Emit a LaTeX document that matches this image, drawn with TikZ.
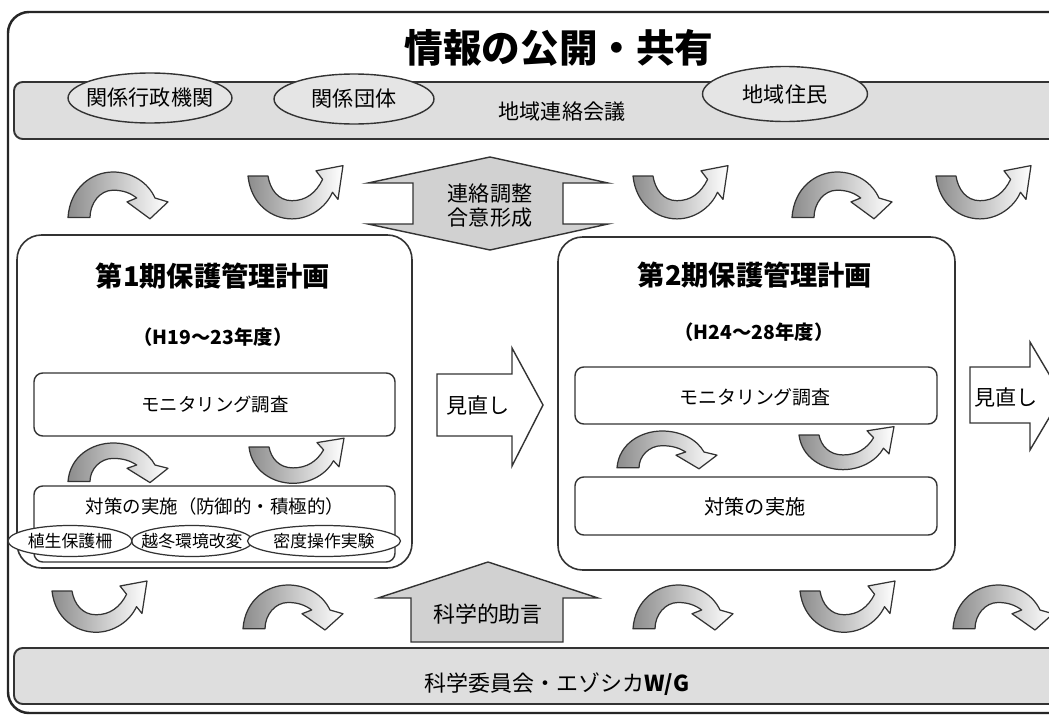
\documentclass[tikz,border=0pt]{standalone}
\usepackage{fontspec}
\setmainfont{Noto Sans CJK JP}
\usetikzlibrary{shapes.geometric}
\tikzset{
  frameline/.style={draw=black!85, line width=1.4pt, rounded corners=12pt},
  band/.style={draw=black!80, line width=1.1pt, fill=black!13, rounded corners=5pt},
  planbox/.style={draw=black!80, line width=0.9pt, fill=white, rounded corners=14pt},
  subbox/.style={draw=black!80, line width=0.8pt, fill=white, rounded corners=5pt},
  topoval/.style={ellipse, draw=black!80, line width=0.8pt, fill=black!10, inner sep=0pt},
  smalloval/.style={ellipse, draw=black!80, line width=0.7pt, fill=white, inner sep=0pt},
  blockarrow/.style={draw=black!80, line width=0.8pt, fill=black!18},
  openarrow/.style={draw=black!80, line width=0.8pt, fill=white},
  curv/.style={draw=black!80, line width=0.7pt, left color=black!45, right color=white, line join=round},
  lbl/.style={inner sep=0pt, font=\fontsize{12}{14}\selectfont},
  small/.style={inner sep=0pt, font=\fontsize{9.6}{11}\selectfont},
  mid/.style={inner sep=0pt, font=\fontsize{10.5}{12}\selectfont},
  plantitle/.style={inner sep=0pt, font=\bfseries\fontsize{15.5}{18}\selectfont},
  period/.style={inner sep=0pt, font=\bfseries\fontsize{11}{13}\selectfont},
  archarr/.pic={\path[curv] (0,35) .. controls (2,12) and (24,0) .. (45,0)
      .. controls (64,0) and (80,8) .. (87,20)
      -- (100,23) -- (82,36) -- (59,23) -- (68.7,20)
      .. controls (62,16) and (55,14) .. (45,14)
      .. controls (32,14) and (22,24) .. (22,35) -- cycle;},
  uarr/.pic={\path[curv] (0,0) .. controls (3,22) and (24,33) .. (44,33)
      .. controls (62,33) and (78,24) .. (84.5,12.5)
      -- (90,18) -- (95,-8) -- (68,-4) -- (74.6,2.6)
      .. controls (68,13) and (58,19) .. (44,19)
      .. controls (30,19) and (22,10) .. (20,0) -- cycle;}
}
\begin{document}
\begin{tikzpicture}[x=0.02cm,y=-0.02cm]
\useasboundingbox (0,0) rectangle (1049,720);
\clip (0,0) rectangle (1049,720);
\fill[white] (0,0) rectangle (1049,720);
% outer frame
\draw[frameline] (8,12) rectangle (1090,713);
% title
\node[inner sep=0pt, font=\bfseries\fontsize{22}{26}\selectfont] (title) at (559,48) {情報の公開・共有};
% top band
\draw[band] (14,82) rectangle (1080,139);
\node[topoval, minimum width=3.28cm, minimum height=1.0cm] (gyosei) at (150,98) {};
\node[lbl] (gyosei-t) at (gyosei) {関係行政機関};
\node[topoval, minimum width=3.2cm, minimum height=1.0cm] (dantai) at (354,99) {};
\node[lbl] (dantai-t) at (dantai) {関係団体};
\node[topoval, minimum width=3.3cm, minimum height=1.1cm] (jumin) at (785,94) {};
\node[lbl] (jumin-t) at (jumin) {地域住民};
\node[lbl] (kaigi) at (562,112) {地域連絡会議};
% top curved arrows
\pic[yscale=1.3] at (68,172) {archarr};
\pic[yscale=1.3] at (248,176) {uarr};
\pic[yscale=1.3] at (633,176) {uarr};
\pic[yscale=1.3] at (792,172) {archarr};
\pic[yscale=1.3] at (936,176) {uarr};
% double arrow
\draw[blockarrow] (490,157) -- (608,183) -- (563,183) -- (563,224) -- (608,224) -- (490,250)
  -- (368,224) -- (413,224) -- (413,183) -- (368,183) -- cycle;
\node[lbl] (renraku) at (490,194) {連絡調整};
\node[lbl] (goi) at (490,218) {合意形成};
% plan 1
\draw[planbox] (17,235) rectangle (412,568);
\node[plantitle] (p1title) at (213,276) {第1期保護管理計画};
\node[period] (p1period) at (213,337) {（H19～23年度）};
\draw[subbox] (34,373) rectangle (395,436);
\node[mid] (mon1) at (215,405) {モニタリング調査};
\pic[yscale=1.1] at (68,443) {archarr};
\pic[yscale=1.1] at (249,447) {uarr};
\draw[subbox] (34,486) rectangle (395,562);
\node[mid] (taisaku1) at (215,506) {対策の実施（防御的・積極的）};
\node[smalloval, minimum width=2.42cm, minimum height=0.62cm] (e2) at (192,541) {};
\node[smalloval, minimum width=2.48cm, minimum height=0.62cm] (e1) at (70,541) {};
\node[smalloval, minimum width=3.06cm, minimum height=0.62cm] (e3) at (324,541) {};
\node[small] (e1t) at (e1) {植生保護柵};
\node[small] (e2t) at (e2) {越冬環境改変};
\node[small] (e3t) at (e3) {密度操作実験};
% review arrow 1
\draw[openarrow] (437,374) -- (512,374) -- (512,348) -- (543,405) -- (512,466) -- (512,436) -- (437,436) -- cycle;
\node[lbl] (mina1) at (478,405) {見直し};
% plan 2
\draw[planbox] (558,237) rectangle (955,570);
\node[plantitle] (p2title) at (755,275) {第2期保護管理計画};
\node[period] (p2period) at (754,332) {（H24～28年度）};
\draw[subbox] (575,367) rectangle (937,424);
\node[inner sep=0pt, font=\fontsize{10.8}{12}\selectfont] (mon2) at (755,397) {モニタリング調査};
\pic[yscale=1.05] at (617,431) {archarr};
\pic[yscale=1.05] at (799,435) {uarr};
\draw[subbox] (575,477) rectangle (937,535);
\node[inner sep=0pt, font=\fontsize{11.5}{13}\selectfont] (taisaku2) at (755,507) {対策の実施};
% review arrow 2
\draw[openarrow] (970,367) -- (1030,367) -- (1030,342) -- (1062,396) -- (1030,450) -- (1030,423) -- (970,423) -- cycle;
\node[lbl] (mina2) at (1006,397) {見直し};
% science advice arrow
\draw[blockarrow] (488,562) -- (598,598) -- (563,598) -- (563,642) -- (411,642) -- (411,598) -- (378,598) -- cycle;
\node[inner sep=0pt, font=\fontsize{12.5}{14}\selectfont] (jogen) at (488,614) {科学的助言};
% bottom curved arrows
\pic[yscale=1.25] at (52,591) {uarr};
\pic[yscale=1.25] at (243,585) {archarr};
\pic[yscale=1.25] at (633,585) {archarr};
\pic[yscale=1.25] at (800,591) {uarr};
\pic[yscale=1.25] at (953,585) {archarr};
% bottom band
\draw[band] (14,648) rectangle (1080,704);
\node[inner sep=0pt, font=\fontsize{12.5}{14}\selectfont] (iinkai) at (557,684) {科学委員会・エゾシカ{\bfseries W/G}};
\end{tikzpicture}
\end{document}
